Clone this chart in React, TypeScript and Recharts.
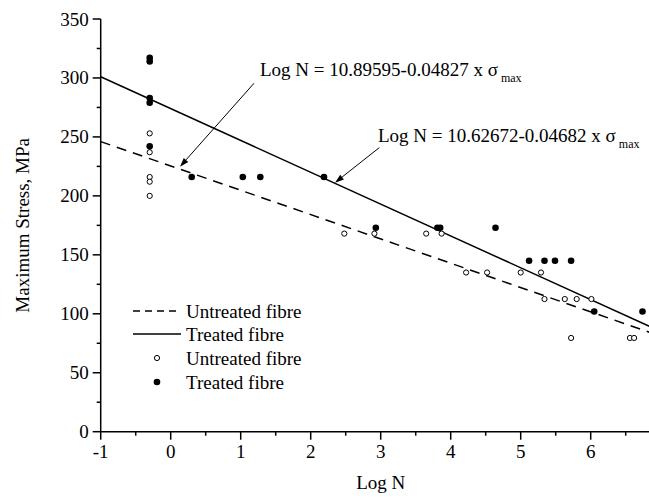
import React from "react";
import {
  ComposedChart,
  Line,
  Scatter,
  XAxis,
  YAxis,
  ReferenceLine,
  ReferenceDot,
  Legend,
} from "recharts";

const FONT = "'Liberation Serif', 'Times New Roman', serif";

const xTicks = [-1, -0.5, 0, 0.5, 1, 1.5, 2, 2.5, 3, 3.5, 4, 4.5, 5, 5.5, 6, 6.5, 7];
const yTicks = [0, 25, 50, 75, 100, 125, 150, 175, 200, 225, 250, 275, 300, 325, 350];

// regression lines (end points)
const untreatedFit = [
  { x: -1, y: 246 },
  { x: 7, y: 81 },
];
const treatedFit = [
  { x: -1, y: 301 },
  { x: 7, y: 85 },
];

// measured points
const untreatedPoints = [
  { x: -0.3, y: 253 },
  { x: -0.3, y: 237 },
  { x: -0.3, y: 216 },
  { x: -0.3, y: 212 },
  { x: -0.3, y: 200 },
  { x: 2.48, y: 168 },
  { x: 2.91, y: 168 },
  { x: 3.65, y: 168 },
  { x: 3.87, y: 168 },
  { x: 4.22, y: 135 },
  { x: 4.52, y: 135 },
  { x: 5.0, y: 135 },
  { x: 5.29, y: 135 },
  { x: 5.34, y: 112.5 },
  { x: 5.63, y: 112.5 },
  { x: 5.8, y: 112.5 },
  { x: 6.01, y: 112.5 },
  { x: 5.72, y: 79.5 },
  { x: 6.56, y: 79.5 },
  { x: 6.62, y: 79.5 },
];
const treatedPoints = [
  { x: -0.3, y: 317 },
  { x: -0.3, y: 314 },
  { x: -0.3, y: 283 },
  { x: -0.3, y: 279 },
  { x: -0.3, y: 242 },
  { x: 0.3, y: 216 },
  { x: 1.03, y: 216 },
  { x: 1.28, y: 216 },
  { x: 2.19, y: 216 },
  { x: 2.93, y: 173 },
  { x: 3.81, y: 173 },
  { x: 3.85, y: 173 },
  { x: 4.64, y: 173 },
  { x: 5.12, y: 145 },
  { x: 5.34, y: 145 },
  { x: 5.49, y: 145 },
  { x: 5.72, y: 145 },
  { x: 6.05, y: 102 },
  { x: 6.74, y: 102 },
];

// annotations (data coordinates)
const eqUntreated = { x: 1.276, y: 301.7, text: "Log N = 10.89595-0.04827 x σ" };
const eqTreated = { x: 2.961, y: 245.3, text: "Log N = 10.62672-0.04682 x σ" };
const arrowUntreated = [
  { x: 1.19, y: 295.5 },
  { x: 0.133, y: 224.8 },
];
const arrowTreated = [
  { x: 2.98, y: 240.9 },
  { x: 2.347, y: 211.2 },
];

const XTick = ({ x, y, payload }: any) => {
  const v = payload.value;
  const major = Number.isInteger(v);
  return (
    <g>
      <line x1={x} y1={y} x2={x} y2={y + (major ? 8 : 4)} stroke="#000" strokeWidth={1.5} />
      {major && v < 7 ? (
        <text x={x} y={y + 26} textAnchor="middle" fontFamily={FONT} fontSize={19} fill="#000">
          {v}
        </text>
      ) : null}
    </g>
  );
};

const YTick = ({ x, y, payload }: any) => {
  const v = payload.value;
  const major = v % 50 === 0;
  return (
    <g>
      <line x1={x} y1={y} x2={x - (major ? 8 : 4)} y2={y} stroke="#000" strokeWidth={1.5} />
      {major ? (
        <text x={x - 12} y={y + 6.5} textAnchor="end" fontFamily={FONT} fontSize={19} fill="#000">
          {v}
        </text>
      ) : null}
    </g>
  );
};

const Arrow = (props: any) => {
  const { x1, y1, x2, y2 } = props;
  const a = Math.atan2(y2 - y1, x2 - x1);
  const len = 9;
  const w = 3;
  const bx = x2 - len * Math.cos(a);
  const by = y2 - len * Math.sin(a);
  const pts = `${x2},${y2} ${bx + w * Math.sin(a)},${by - w * Math.cos(a)} ${bx - w * Math.sin(a)},${by + w * Math.cos(a)}`;
  return (
    <g>
      <line x1={x1} y1={y1} x2={bx} y2={by} stroke="#000" strokeWidth={1} />
      <polygon points={pts} fill="#000" />
    </g>
  );
};

const eqLabel = (text: string) => (props: any) =>
  (
    <text x={props.cx} y={props.cy} fontFamily={FONT} fontSize={19} fill="#000">
      {text}
      <tspan fontSize={12} dx={3} dy={6}>
        max
      </tspan>
    </text>
  );

const openDot = (p: any) => <circle cx={p.cx} cy={p.cy} r={2.6} fill="#fff" stroke="#000" strokeWidth={1} />;
const filledDot = (p: any) => <circle cx={p.cx} cy={p.cy} r={3.3} fill="#000" />;

const LegendBox = () => (
  <svg width={200} height={100} style={{ display: "block" }}>
    <line x1={8} y1={13} x2={56} y2={13} stroke="#000" strokeWidth={1.5} strokeDasharray="7 5" />
    <text x={61} y={19.5} fontFamily={FONT} fontSize={19}>Untreated fibre</text>
    <line x1={8} y1={36} x2={56} y2={36} stroke="#000" strokeWidth={1.5} />
    <text x={61} y={42.5} fontFamily={FONT} fontSize={19}>Treated fibre</text>
    <circle cx={32} cy={60} r={2.6} fill="#fff" stroke="#000" />
    <text x={61} y={66.5} fontFamily={FONT} fontSize={19}>Untreated fibre</text>
    <circle cx={32} cy={84} r={3.3} fill="#000" />
    <text x={61} y={90.5} fontFamily={FONT} fontSize={19}>Treated fibre</text>
  </svg>
);

const App = () => (
  <div style={{ position: "absolute", left: 0, top: 0, width: 649, height: 501, overflow: "hidden", background: "#fff" }}>
    <ComposedChart
      width={680}
      height={501}
      margin={{ top: 19, right: 19.3, bottom: 19.3, left: 40.7 }}
    >
      <XAxis
        type="number"
        dataKey="x"
        domain={[-1, 7]}
        ticks={xTicks}
        interval={0}
        tick={<XTick />}
        tickLine={false}
        tickSize={0}
        tickMargin={0}
        height={50}
        axisLine={{ stroke: "#000", strokeWidth: 1.5 }}
        label={{
          content: (p: any) => (
            <text
              x={p.viewBox.x + p.viewBox.width / 2}
              y={489}
              textAnchor="middle"
              fontFamily={FONT}
              fontSize={19}
              fill="#000"
            >
              Log N
            </text>
          ),
        }}
      />
      <YAxis
        type="number"
        dataKey="y"
        domain={[0, 350]}
        ticks={yTicks}
        interval={0}
        tick={<YTick />}
        tickLine={false}
        tickSize={0}
        tickMargin={0}
        width={60}
        axisLine={{ stroke: "#000", strokeWidth: 1.5 }}
        label={{
          content: (p: any) => {
            const cx = 23;
            const cy = p.viewBox.y + p.viewBox.height / 2;
            return (
              <text
                x={cx}
                y={cy}
                transform={`rotate(-90 ${cx} ${cy})`}
                textAnchor="middle"
                dominantBaseline="central"
                fontFamily={FONT}
                fontSize={19}
                fill="#000"
              >
                Maximum Stress, MPa
              </text>
            );
          },
        }}
      />
      <Line
        data={untreatedFit}
        dataKey="y"
        type="linear"
        stroke="#000"
        strokeWidth={1.5}
        strokeDasharray="10 7"
        dot={false}
        activeDot={false}
        isAnimationActive={false}
      />
      <Line
        data={treatedFit}
        dataKey="y"
        type="linear"
        stroke="#000"
        strokeWidth={1.5}
        dot={false}
        activeDot={false}
        isAnimationActive={false}
      />
      <Scatter data={untreatedPoints} shape={openDot} isAnimationActive={false} />
      <Scatter data={treatedPoints} shape={filledDot} isAnimationActive={false} />
      <ReferenceLine segment={arrowUntreated} shape={<Arrow />} />
      <ReferenceLine segment={arrowTreated} shape={<Arrow />} />
      <ReferenceDot x={eqUntreated.x} y={eqUntreated.y} r={0} shape={eqLabel(eqUntreated.text)} />
      <ReferenceDot x={eqTreated.x} y={eqTreated.y} r={0} shape={eqLabel(eqTreated.text)} />
      <Legend
        layout="vertical"
        align="center"
        verticalAlign="middle"
        wrapperStyle={{ left: 125, top: 298, width: 200, height: 100 }}
        content={() => <LegendBox />}
      />
    </ComposedChart>
  </div>
);

export default App;
